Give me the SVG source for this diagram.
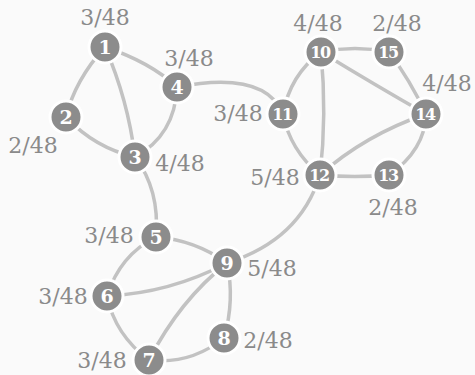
<svg xmlns="http://www.w3.org/2000/svg" width="475" height="375" viewBox="0 0 475 375">
<style>
.bg{fill:#fafafa}
.e{fill:none;stroke:#c2c2c2;stroke-width:3.5;stroke-linecap:round}
.n circle{fill:#8c8c8c;stroke:#ffffff;stroke-width:3}
.n text{fill:#ffffff;font-family:"DejaVu Serif",serif;font-size:19px;font-weight:bold;text-anchor:middle;dominant-baseline:central}
.n text.d{font-size:16px;letter-spacing:-1.5px}
.l{fill:#8a8a8a;font-family:"DejaVu Serif",serif;font-size:22px;text-anchor:middle;dominant-baseline:central}
</style>
<rect class="bg" x="0" y="0" width="475" height="375"/>
<g id="edges">
<path class="e" d="M105,47 Q75,80 66,117"/>
<path class="e" d="M105,47 Q128,100 135,157"/>
<path class="e" d="M105,47 Q150,62 177,87"/>
<path class="e" d="M66,117 Q95,148 135,157"/>
<path class="e" d="M177,87 Q175,135 135,157"/>
<path class="e" d="M177,87 Q265,70 283,114"/>
<path class="e" d="M135,157 Q160,190 156,237"/>
<path class="e" d="M156,237 Q195,240 227,263"/>
<path class="e" d="M156,237 Q120,255 107,296"/>
<path class="e" d="M107,296 Q170,293 227,263"/>
<path class="e" d="M107,296 Q115,335 149,360"/>
<path class="e" d="M149,360 Q180,300 227,263"/>
<path class="e" d="M149,360 Q190,365 224,338"/>
<path class="e" d="M224,338 Q235,300 227,263"/>
<path class="e" d="M227,263 Q300,240 320,175"/>
<path class="e" d="M321,52 Q290,75 283,114"/>
<path class="e" d="M321,52 Q327,115 320,175"/>
<path class="e" d="M321,52 Q375,85 426,114"/>
<path class="e" d="M321,52 Q355,45 389,52"/>
<path class="e" d="M389,52 Q410,80 426,114"/>
<path class="e" d="M283,114 Q290,150 320,175"/>
<path class="e" d="M320,175 Q365,135 426,114"/>
<path class="e" d="M320,175 Q355,178 389,175"/>
<path class="e" d="M389,175 Q425,150 426,114"/>
</g>
<g id="n1" class="n"><circle cx="105" cy="47" r="16"/><text x="105" y="47">1</text></g>
<g id="n2" class="n"><circle cx="66" cy="117" r="16"/><text x="66" y="117">2</text></g>
<g id="n3" class="n"><circle cx="135" cy="157" r="16"/><text x="135" y="157">3</text></g>
<g id="n4" class="n"><circle cx="177" cy="87" r="16"/><text x="177" y="87">4</text></g>
<g id="n5" class="n"><circle cx="156" cy="237" r="16"/><text x="156" y="237">5</text></g>
<g id="n6" class="n"><circle cx="107" cy="296" r="16"/><text x="107" y="296">6</text></g>
<g id="n7" class="n"><circle cx="149" cy="360" r="16"/><text x="149" y="360">7</text></g>
<g id="n8" class="n"><circle cx="224" cy="338" r="16"/><text x="224" y="338">8</text></g>
<g id="n9" class="n"><circle cx="227" cy="263" r="16"/><text x="227" y="263">9</text></g>
<g id="n10" class="n"><circle cx="321" cy="52" r="16"/><text class="d" x="320" y="52">10</text></g>
<g id="n11" class="n"><circle cx="283" cy="114" r="16"/><text class="d" x="282" y="114">11</text></g>
<g id="n12" class="n"><circle cx="320" cy="175" r="16"/><text class="d" x="319" y="175">12</text></g>
<g id="n13" class="n"><circle cx="389" cy="175" r="16"/><text class="d" x="388" y="175">13</text></g>
<g id="n14" class="n"><circle cx="426" cy="114" r="16"/><text class="d" x="425" y="114">14</text></g>
<g id="n15" class="n"><circle cx="389" cy="52" r="16"/><text class="d" x="388" y="52">15</text></g>
<g id="labels">
<text class="l" x="105" y="17">3/48</text>
<text class="l" x="33" y="145">2/48</text>
<text class="l" x="180" y="163">4/48</text>
<text class="l" x="189" y="58">3/48</text>
<text class="l" x="109" y="235">3/48</text>
<text class="l" x="63" y="296">3/48</text>
<text class="l" x="102" y="360">3/48</text>
<text class="l" x="268" y="340">2/48</text>
<text class="l" x="272" y="268">5/48</text>
<text class="l" x="318" y="23">4/48</text>
<text class="l" x="238" y="113">3/48</text>
<text class="l" x="275" y="177">5/48</text>
<text class="l" x="393" y="207">2/48</text>
<text class="l" x="447" y="83">4/48</text>
<text class="l" x="397" y="23">2/48</text>
</g>
</svg>
